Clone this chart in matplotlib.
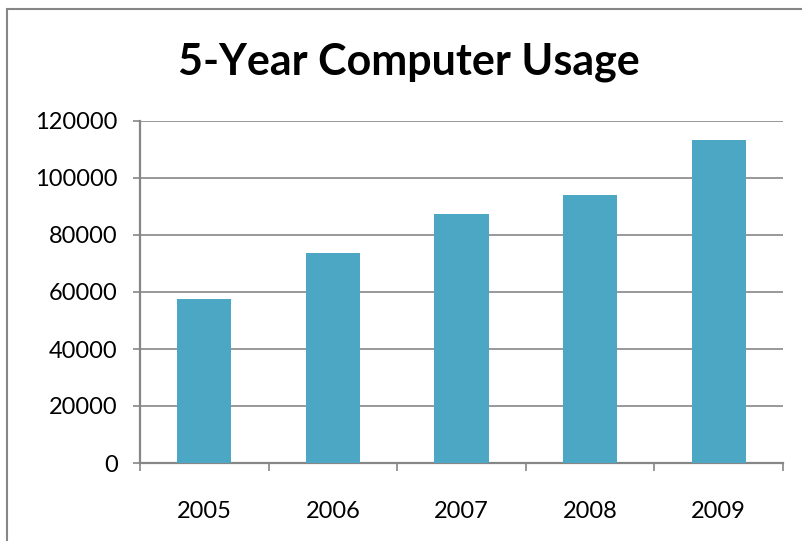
import matplotlib
matplotlib.use("Agg")
import matplotlib.pyplot as plt
from matplotlib.patches import Rectangle
from matplotlib.ticker import FixedLocator

# data
years = ['2005', '2006', '2007', '2008', '2009']
usage = [57600, 73800, 87200, 94200, 113200]
yticks = [0, 20000, 40000, 60000, 80000, 100000, 120000]

bar_color = '#4BA7C3'
grey = '#868686'

plt.rcParams['font.family'] = ['Lato', 'DejaVu Sans']

fig = plt.figure(figsize=(8.02, 5.41), dpi=100)
ax = fig.add_axes([140 / 802, 78 / 541, 643 / 802, 342 / 541])

x = list(range(len(years)))
ax.bar(x, usage, width=0.42, color=bar_color, zorder=3)

ax.set_xlim(-0.5, len(years) - 0.5)
ax.set_ylim(0, 120000)
ax.set_yticks(yticks)
ax.set_yticklabels([str(v) for v in yticks])
ax.set_xticks(x)
ax.set_xticklabels(years)
ax.xaxis.set_minor_locator(FixedLocator([i - 0.5 for i in range(len(years) + 1)]))

ax.grid(axis='y', color=grey, linewidth=1.2, zorder=0)
ax.tick_params(axis='y', which='major', length=5, width=1.2, color=grey,
               labelsize=17, pad=11)
ax.tick_params(axis='x', which='major', length=0, labelsize=17, pad=27)
ax.tick_params(axis='x', which='minor', length=5.5, width=1.2, color=grey)

for side in ['top', 'right']:
    ax.spines[side].set_visible(False)
for side in ['left', 'bottom']:
    ax.spines[side].set_color(grey)
    ax.spines[side].set_linewidth(1.6)

fig.text(409 / 802, (541 - 75) / 541, '5-Year Computer Usage', ha='center',
         va='baseline', fontsize=31, fontweight='bold')

# chart frame
fig.patches.append(Rectangle((7 / 802, -0.1), 1.2, (541 - 9) / 541 + 0.1,
                             transform=fig.transFigure, fill=False,
                             edgecolor=grey, linewidth=1.5))

fig.savefig('out.png', dpi=100)
